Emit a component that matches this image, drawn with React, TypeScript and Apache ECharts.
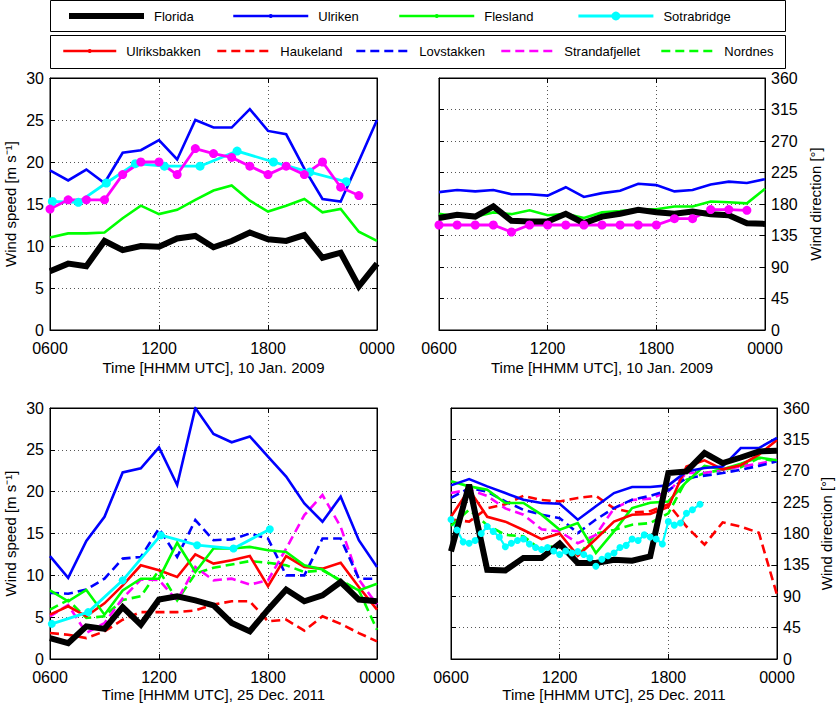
import React, { useEffect, useRef } from "react";
import * as echarts from "echarts";

const FONT = "'Liberation Sans', Arial, Helvetica, sans-serif";

// ---------- shared axes ----------
const hours = [6, 7, 8, 9, 10, 11, 12, 13, 14, 15, 16, 17, 18, 19, 20, 21, 22, 23, 24];
const hoursTo23 = [6, 7, 8, 9, 10, 11, 12, 13, 14, 15, 16, 17, 18, 19, 20, 21, 22, 23];
const xTickValues = [6, 12, 18, 24];
const xTickLabels = ["0600", "1200", "1800", "0000"];
const xTitle2009 = "Time [HHMM UTC], 10 Jan. 2009";
const xTitle2011 = "Time [HHMM UTC], 25 Dec. 2011";
const speedTitle = "Wind speed [m s⁻¹]";
const dirTitle = "Wind direction [°]";

// ---------- 10 Jan 2009, wind speed ----------
const florida2009Speed = [7.0, 7.9, 7.6, 10.6, 9.5, 10.0, 9.9, 10.9, 11.2, 9.85, 10.6, 11.6, 10.8, 10.6, 11.3, 8.6, 9.2, 5.2, 7.9];
const ulriken2009Speed = [19.0, 17.8, 19.1, 17.5, 21.1, 21.4, 22.6, 20.3, 25.0, 24.1, 24.1, 26.3, 23.7, 23.3, 19.2, 15.6, 15.3, 20.1, 25.0];
const flesland2009Speed = [11.0, 11.5, 11.5, 11.6, 13.3, 14.8, 13.8, 14.3, 15.5, 16.6, 17.2, 15.4, 14.1, 14.8, 15.6, 14.0, 14.4, 11.7, 10.6];
const sotra2009Time = [6.13, 7.56, 9.1, 10.7, 12.3, 14.26, 16.3, 18.3, 20.3, 22.3];
const sotra2009Speed = [15.3, 15.2, 17.5, 19.8, 19.5, 19.5, 21.3, 20.0, 18.8, 17.65];
const strand2009Speed = [14.4, 15.5, 15.5, 15.5, 18.5, 20.0, 20.0, 18.5, 21.6, 21.0, 20.55, 19.5, 18.5, 19.5, 18.5, 20.0, 17.0, 16.0];

// ---------- 10 Jan 2009, wind direction ----------
const ulriken2009Dir = [197, 200, 198, 200, 194, 194, 192, 204, 190, 195.5, 199, 209, 207, 198, 200, 208, 212, 210, 215.5];
const flesland2009Dir = [166, 162, 162, 168, 165.5, 171, 164, 166, 160, 168, 170, 172.6, 172.6, 176.5, 176.5, 183.6, 182.6, 181, 201.7];
const florida2009Dir = [160, 164.5, 162, 176.5, 156, 155, 155, 166, 152.6, 162, 166, 171.7, 168.3, 166, 169.3, 165.5, 164, 152.6, 151.6];
const strand2009Dir = [150, 150, 150, 150, 140, 150, 150, 150, 150, 150, 150, 150, 150, 159, 159, 172, 172, 171];

// ---------- 25 Dec 2011, wind speed ----------
const florida2011Speed = [2.5, 1.9, 3.9, 3.6, 6.2, 4.1, 7.1, 7.5, 7.0, 6.4, 4.3, 3.3, 5.9, 8.3, 6.9, 7.6, 9.2, 7.1, 6.9];
const ulriken2011Speed = [12.3, 9.7, 14.1, 17.0, 22.3, 22.8, 25.3, 20.8, 30.0, 26.9, 25.9, 26.6, 24.2, 21.8, 18.6, 16.4, 19.4, 14.2, 11.0];
const flesland2011Speed = [8.2, 6.9, 8.25, 5.3, 8.2, 9.6, 9.6, 13.9, 10.4, 13.2, 13.2, 13.4, 13.0, 12.8, 11.2, 10.7, 9.3, 8.2, 9.0];
const sotra2011Time = [6.1, 8.1, 10.0, 12.1, 14.1, 16.1, 18.1];
const sotra2011Speed = [4.2, 5.6, 9.4, 14.8, 13.6, 13.2, 15.5];
const ulriksbakken2011Speed = [5.3, 6.3, 5.1, 6.65, 8.8, 11.2, 10.6, 9.8, 12.5, 11.4, 11.8, 12.3, 8.7, 12.3, 11.0, 10.8, 11.5, 8.6, 5.9];
const haukeland2011Speed = [3.1, 2.9, 2.5, 3.3, 4.7, 5.6, 5.6, 5.6, 5.8, 6.5, 6.9, 6.9, 4.5, 4.7, 3.4, 5.1, 4.2, 3.1, 2.1];
const lovstakken2011Speed = [7.9, 7.8, 8.3, 9.6, 12.0, 12.2, 15.6, 12.2, 16.6, 14.2, 14.3, 15.0, 14.4, 10.0, 10.0, 14.4, 14.4, 9.6, 9.6];
const strand2011Speed = [5.1, 6.45, 3.1, 4.3, 7.25, 9.5, 9.45, 7.0, 11.0, 9.4, 9.6, 8.9, 9.4, 13.2, 17.2, 19.6, 15.8, 9.5, 6.5];
const nordnes2011Speed = [5.9, 7.05, 4.9, 5.1, 7.05, 7.5, 10.6, 7.0, 10.2, 10.9, 11.3, 11.7, 11.5, 11.2, 10.4, 10.6, 9.4, 8.2, 3.5];

// ---------- 25 Dec 2011, wind direction ----------
const ulriken2011Dir = [249, 258, 247.6, 238, 228.5, 223.7, 222.8, 199.8, 219, 238, 246.7, 246.7, 249, 269, 274, 276, 302.6, 302.6, 317];
const florida2011Dir = [154.4, 250, 128, 127, 145, 145, 165.4, 137.7, 137.7, 142.4, 141, 147.2, 266.7, 269, 295.4, 281, 289, 297.8, 298.8];
const flesland2011Dir = [254.8, 247.6, 242.8, 223.7, 223.7, 207, 185.5, 195, 152, 183, 216.5, 224, 226, 254, 277, 272, 280, 289, 285];
const ulriksbakken2011Dir = [204, 243, 204, 197, 185, 172, 180, 148, 172, 197, 207, 208, 218, 276, 285, 272, 278, 293, 314];
const haukeland2011Dir = [200, 197, 216, 222, 234, 228, 226, 231, 234, 216, 210, 212, 222, 190, 164, 196, 190, 181, 92];
const lovstakken2011Dir = [231, 245, 240, 226, 214, 207, 202, 180.7, 200, 216.5, 228.5, 234, 242, 259.6, 263, 266.7, 271.5, 277, 283.5];
const strand2011Dir = [238, 243, 234, 216, 207, 186, 183, 166, 178, 216, 228, 230, 240, 266.7, 266.7, 271.5, 276, 280, 286];
const nordnes2011Dir = [191, 214, 192, 178, 176, 156, 166, 147, 180, 185, 192.6, 195, 209, 257, 266.7, 271.5, 275, 288, 283.5];
const sotra2011DirTime = [6.0, 6.33, 6.67, 7.0, 7.33, 7.67, 8.0, 8.33, 8.67, 9.0, 9.33, 9.67, 10.0, 10.33, 10.67, 11.0, 11.33, 11.67, 12.0, 12.33, 12.67, 13.0, 13.33, 13.67, 14.0, 14.33, 14.67, 15.0, 15.33, 15.67, 16.0, 16.33, 16.67, 17.0, 17.33, 17.67, 18.0, 18.33, 18.67, 19.0, 19.33, 19.75];
const sotra2011Dir = [200, 185, 168, 166, 170, 180, 190, 183, 175, 161, 166, 170, 172, 165, 160, 157, 160, 155, 150, 155, 152, 154, 150, 145, 133, 143, 148, 152, 160, 163, 172, 170, 178, 175, 172, 165, 197, 192, 195, 209, 214, 222];

// ---------- legend ----------
const legendRow1 = ["Florida", "Ulriken", "Flesland", "Sotrabridge"];
const legendRow2 = ["Ulriksbakken", "Haukeland", "Lovstakken", "Strandafjellet", "Nordnes"];

const C = {
  black: "#000000",
  blue: "#0000ff",
  green: "#00ff00",
  cyan: "#00ffff",
  red: "#ff0000",
  magenta: "#ff00ff",
};
const DASH = [9, 5];
const LW = 2.6;
const LW_FLORIDA = 6;

function pairs(xs: number[], ys: number[]) {
  return xs.map((x, i) => [x, ys[i]]);
}

function mk(
  name: string,
  g: number,
  xs: number[],
  ys: number[],
  color: string,
  width: number,
  opts: { dashed?: boolean; marker?: number } = {}
) {
  return {
    type: "line",
    name,
    xAxisIndex: g * 2,
    yAxisIndex: g * 2,
    data: pairs(xs, ys),
    symbol: opts.marker ? "circle" : "none",
    symbolSize: opts.marker || 0,
    showSymbol: !!opts.marker,
    lineStyle: { color, width, type: opts.dashed ? DASH : "solid", cap: "butt", join: "miter" },
    itemStyle: { color, borderWidth: 0 },
    emphasis: { disabled: true },
    silent: true,
  };
}

export default function App() {
  const ref = useRef<HTMLDivElement>(null);

  useEffect(() => {
    if (!ref.current) return;
    const chart = echarts.init(ref.current, null, { renderer: "svg" });

    const grids = [
      { left: 50, top: 78, width: 327, height: 252 },
      { left: 439, top: 78, width: 326, height: 252 },
      { left: 50, top: 408, width: 327, height: 251 },
      { left: 451, top: 408, width: 326, height: 251 },
    ].map((g) => ({ ...g, show: true, borderColor: "#000", borderWidth: 1, containLabel: false }));

    const xNames = [xTitle2009, xTitle2009, xTitle2011, xTitle2011];
    const xNameGaps = [30, 30, 28, 28];
    const xAxis: any[] = [];
    const yAxis: any[] = [];
    for (let g = 0; g < 4; g++) {
      const base = {
        type: "value",
        gridIndex: g,
        min: 6,
        max: 24,
        interval: 6,
        axisLine: { show: true, onZero: false, lineStyle: { color: "#000", width: 1 } },
        axisTick: { show: true, inside: true, length: 5, lineStyle: { color: "#000", width: 1 } },
      };
      xAxis.push({
        ...base,
        position: "bottom",
        axisLabel: {
          show: true,
          color: "#000",
          fontSize: 16,
          fontFamily: FONT,
          margin: 10,
          lineHeight: 16,
          formatter: (v: number) => xTickLabels[xTickValues.indexOf(v)] ?? "",
        },
        splitLine: { show: true, lineStyle: { color: "#555", type: [1, 3], width: 1 } },
        name: xNames[g],
        nameLocation: "middle",
        nameGap: xNameGaps[g],
        nameTextStyle: { color: "#000", fontSize: 15, fontFamily: FONT },
      });
      xAxis.push({ ...base, position: "top", axisLabel: { show: false }, splitLine: { show: false } });

      const isDir = g === 1 || g === 3;
      const ybase = {
        type: "value",
        gridIndex: g,
        min: 0,
        max: isDir ? 360 : 30,
        interval: isDir ? 45 : 5,
        axisLine: { show: true, onZero: false, lineStyle: { color: "#000", width: 1 } },
        axisTick: { show: true, inside: true, length: 5, lineStyle: { color: "#000", width: 1 } },
      };
      yAxis.push({
        ...ybase,
        position: isDir ? "right" : "left",
        axisLabel: { show: true, color: "#000", fontSize: 16, fontFamily: FONT, margin: 6, lineHeight: 16 },
        splitLine: { show: true, lineStyle: { color: "#555", type: [1, 3], width: 1 } },
        name: isDir ? dirTitle : speedTitle,
        nameLocation: "middle",
        nameGap: isDir ? (g === 1 ? 43 : 42) : 32,
        nameTextStyle: { color: "#000", fontSize: 15, fontFamily: FONT },
      });
      yAxis.push({ ...ybase, position: isDir ? "left" : "right", axisLabel: { show: false }, splitLine: { show: false } });
    }

    const series: any[] = [
      // top-left: speed 2009
      mk("Flesland", 0, hours, flesland2009Speed, C.green, LW),
      mk("Ulriken", 0, hours, ulriken2009Speed, C.blue, LW),
      mk("Florida", 0, hours, florida2009Speed, C.black, LW_FLORIDA),
      mk("Sotrabridge", 0, sotra2009Time, sotra2009Speed, C.cyan, 2.8, { marker: 9 }),
      mk("Strandafjellet", 0, hoursTo23, strand2009Speed, C.magenta, 2.8, { marker: 9 }),
      // top-right: direction 2009
      mk("Ulriken", 1, hours, ulriken2009Dir, C.blue, LW),
      mk("Flesland", 1, hours, flesland2009Dir, C.green, LW),
      mk("Strandafjellet", 1, hoursTo23, strand2009Dir, C.magenta, 2.8, { marker: 9 }),
      mk("Florida", 1, hours, florida2009Dir, C.black, LW_FLORIDA),
      // bottom-left: speed 2011
      mk("Haukeland", 2, hours, haukeland2011Speed, C.red, LW, { dashed: true }),
      mk("Nordnes", 2, hours, nordnes2011Speed, C.green, LW, { dashed: true }),
      mk("Strandafjellet", 2, hours, strand2011Speed, C.magenta, LW, { dashed: true }),
      mk("Lovstakken", 2, hours, lovstakken2011Speed, C.blue, LW, { dashed: true }),
      mk("Ulriksbakken", 2, hours, ulriksbakken2011Speed, C.red, LW),
      mk("Flesland", 2, hours, flesland2011Speed, C.green, LW),
      mk("Ulriken", 2, hours, ulriken2011Speed, C.blue, LW),
      mk("Sotrabridge", 2, sotra2011Time, sotra2011Speed, C.cyan, 2.8, { marker: 8 }),
      mk("Florida", 2, hours, florida2011Speed, C.black, LW_FLORIDA),
      // bottom-right: direction 2011
      mk("Sotrabridge", 3, sotra2011DirTime, sotra2011Dir, C.cyan, 2.2, { marker: 7 }),
      mk("Haukeland", 3, hours, haukeland2011Dir, C.red, LW, { dashed: true }),
      mk("Nordnes", 3, hours, nordnes2011Dir, C.green, LW, { dashed: true }),
      mk("Strandafjellet", 3, hours, strand2011Dir, C.magenta, LW, { dashed: true }),
      mk("Lovstakken", 3, hours, lovstakken2011Dir, C.blue, LW, { dashed: true }),
      mk("Flesland", 3, hours, flesland2011Dir, C.green, LW),
      mk("Ulriksbakken", 3, hours, ulriksbakken2011Dir, C.red, LW),
      mk("Ulriken", 3, hours, ulriken2011Dir, C.blue, LW),
      mk("Florida", 3, hours, florida2011Dir, C.black, LW_FLORIDA),
    ];

    const legendStyle: Record<string, any> = {
      Florida: { color: C.black, width: 6, dash: false, mark: 0 },
      Ulriken: { color: C.blue, width: 2.5, dash: false, mark: 5 },
      Flesland: { color: C.green, width: 2.5, dash: false, mark: 5 },
      Sotrabridge: { color: C.cyan, width: 2.8, dash: false, mark: 11 },
      Ulriksbakken: { color: C.red, width: 2.5, dash: false, mark: 5 },
      Haukeland: { color: C.red, width: 2.6, dash: true, mark: 0 },
      Lovstakken: { color: C.blue, width: 2.6, dash: true, mark: 0 },
      Strandafjellet: { color: C.magenta, width: 2.6, dash: true, mark: 0 },
      Nordnes: { color: C.green, width: 2.6, dash: true, mark: 0 },
    };
    const row1Left = [66, 232, 398, 577];
    const row2Left = [62, 216, 355, 500, 660];
    const mkLegend = (name: string, left: number, centerY: number, w: number) => {
      const s = legendStyle[name];
      const h = s.mark || 4;
      return {
        show: true,
        left,
        top: centerY - 8,
        padding: 0,
        itemWidth: w,
        itemHeight: h,
        selectedMode: false,
        textStyle: { color: "#000", fontSize: 13, fontFamily: FONT, padding: [0, 0, 0, 5], lineHeight: 16 },
        data: [
          {
            name,
            lineStyle: { color: s.color, width: s.width, type: s.dash ? DASH : "solid", cap: "butt" },
            itemStyle: { color: s.color, opacity: s.mark ? 1 : 0, borderWidth: 0 },
          },
        ],
      };
    };
    const legend = [
      ...legendRow1.map((n, i) => mkLegend(n, row1Left[i], 16, 75)),
      ...legendRow2.map((n, i) => mkLegend(n, row2Left[i], 51, 53)),
    ];

    chart.setOption({
      animation: false,
      backgroundColor: "#ffffff",
      textStyle: { fontFamily: FONT },
      grid: grids,
      xAxis,
      yAxis,
      legend,
      series,
      graphic: [
        { type: "rect", shape: { x: 50.5, y: 0.5, width: 735, height: 31 }, style: { fill: "none", stroke: "#000", lineWidth: 1 }, silent: true },
        { type: "rect", shape: { x: 50.5, y: 35.5, width: 735, height: 33 }, style: { fill: "none", stroke: "#000", lineWidth: 1 }, silent: true },
      ],
    });

    return () => chart.dispose();
  }, []);

  return (
    <div
      ref={ref}
      style={{ position: "absolute", left: 0, top: 0, width: 837, height: 705, background: "#fff" }}
    />
  );
}
